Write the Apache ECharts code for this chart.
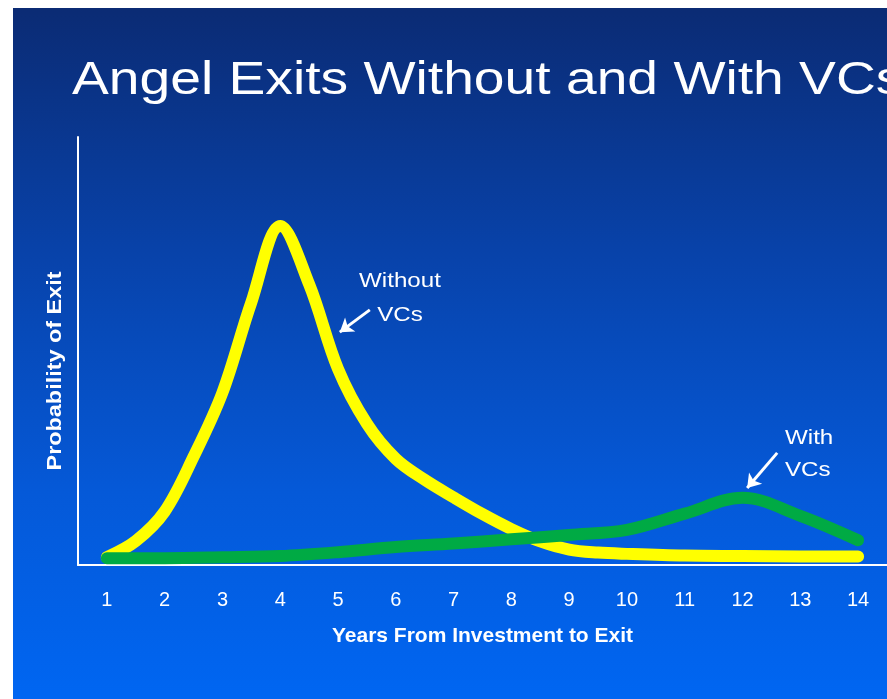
<!DOCTYPE html>
<html>
<head>
<meta charset="utf-8">
<script src="https://cdn.jsdelivr.net/npm/echarts@6/dist/echarts.min.js"></script>
<style>
  html, body { margin: 0; padding: 0; background: #fff; }
  #chart { position: absolute; left: 13px; top: 8px; width: 874px; height: 691px; }
</style>
</head>
<body>
<div id="chart"></div>
<script>
// years on the x axis
const yearTicks = [1, 2, 3, 4, 5, 6, 7, 8, 9, 10, 11, 12, 13, 14];

// "Without VCs" curve, read every half year (0-100 relative probability)
const withoutYears = [1, 1.5, 2, 2.5, 3, 3.5, 4, 4.5, 5, 5.5, 6, 6.5, 7, 7.5, 8, 8.5, 9, 9.5, 10, 11, 12, 13, 14];
const withoutProb = [1.8, 5.6, 12.5, 25.3, 40.3, 61.4, 79.2, 65.6, 45.8, 33.0, 24.8, 19.9, 15.8, 11.9, 8.4, 5.5, 3.6, 2.9, 2.6, 2.2, 2.1, 2.0, 2.0];

// "With VCs" curve
const withYears = [1, 2, 3, 4, 5, 6, 7, 8, 9, 10, 11, 12, 13, 14];
const withProb = [1.6, 1.6, 1.8, 2.1, 3.0, 4.2, 5.0, 6.0, 7.0, 8.2, 12.0, 15.7, 11.5, 5.8];

// annotation arrows: [tail, head] in data units
const withoutArrow = [[5.55, 59.6], [5.03, 54.4]];
const withArrow = [[12.6, 26.2], [12.08, 18.0]];

const chart = echarts.init(document.getElementById('chart'));

const pair = (xs, ys) => xs.map((x, i) => [x, ys[i]]);
const arrowLine = (a) => [{ coord: a[0] }, { coord: a[1] }];

const option = {
  backgroundColor: {
    type: 'linear', x: 0, y: 0, x2: 0, y2: 1,
    colorStops: [
      { offset: 0, color: '#0b2b74' },
      { offset: 0.35, color: '#0842a9' },
      { offset: 0.7, color: '#0559d8' },
      { offset: 1, color: '#0066f2' },
    ],
  },
  textStyle: { fontFamily: 'Liberation Sans' },
  grid: { left: 65, top: 129, right: 0, bottom: 134 },
  xAxis: {
    type: 'value',
    min: 0.5,
    max: 14.5,
    name: 'Years From Investment to Exit',
    nameLocation: 'middle',
    nameGap: 61,
    nameTextStyle: { color: '#fff', fontSize: 21, fontWeight: 'bold' },
    axisLine: { show: true, lineStyle: { color: '#fff', width: 2 } },
    axisTick: { show: false },
    splitLine: { show: false },
    axisLabel: {
      color: '#fff',
      fontSize: 20,
      margin: 25,
      customValues: yearTicks,
    },
  },
  yAxis: {
    type: 'value',
    min: 0,
    max: 100,
    axisLine: { show: true, lineStyle: { color: '#fff', width: 2 } },
    axisTick: { show: false },
    axisLabel: { show: false },
    splitLine: { show: false },
  },
  graphic: [
    {
      type: 'text', x: 59, y: 73, scaleX: 1.2,
      style: {
        text: 'Angel Exits Without and With VCs',
        fontSize: 46, fontFamily: 'Liberation Sans',
        fill: '#fff', align: 'left', verticalAlign: 'middle',
      },
    },
    {
      type: 'text', x: 42, y: 363, rotation: Math.PI / 2, scaleX: 1.17,
      style: {
        text: 'Probability of Exit',
        fontSize: 20, fontWeight: 'bold', fontFamily: 'Liberation Sans',
        fill: '#fff', align: 'center', verticalAlign: 'middle',
      },
    },
    {
      type: 'text', x: 387, y: 290, scaleX: 1.15,
      style: {
        text: 'Without\nVCs', lineHeight: 34,
        fontSize: 21, fontFamily: 'Liberation Sans',
        fill: '#fff', align: 'center', verticalAlign: 'middle',
      },
    },
    {
      type: 'text', x: 772, y: 446, scaleX: 1.15,
      style: {
        text: 'With\nVCs', lineHeight: 32,
        fontSize: 21, fontFamily: 'Liberation Sans',
        fill: '#fff', align: 'left', verticalAlign: 'middle',
      },
    },
  ],
  series: [
    {
      name: 'Without VCs',
      type: 'line',
      data: pair(withoutYears, withoutProb),
      smooth: 0.35,
      showSymbol: false,
      silent: true,
      lineStyle: { color: '#ffff00', width: 12, cap: 'round', join: 'round' },
      markLine: {
        silent: true,
        symbol: ['none', 'arrow'],
        symbolSize: 13,
        label: { show: false },
        lineStyle: { color: '#fff', width: 3, type: 'solid' },
        data: [arrowLine(withoutArrow), arrowLine(withArrow)],
      },
    },
    {
      name: 'With VCs',
      type: 'line',
      data: pair(withYears, withProb),
      smooth: 0.35,
      showSymbol: false,
      silent: true,
      lineStyle: { color: '#00aa44', width: 12, cap: 'round', join: 'round' },
    },
  ],
};

chart.setOption(option);
</script>
</body>
</html>
